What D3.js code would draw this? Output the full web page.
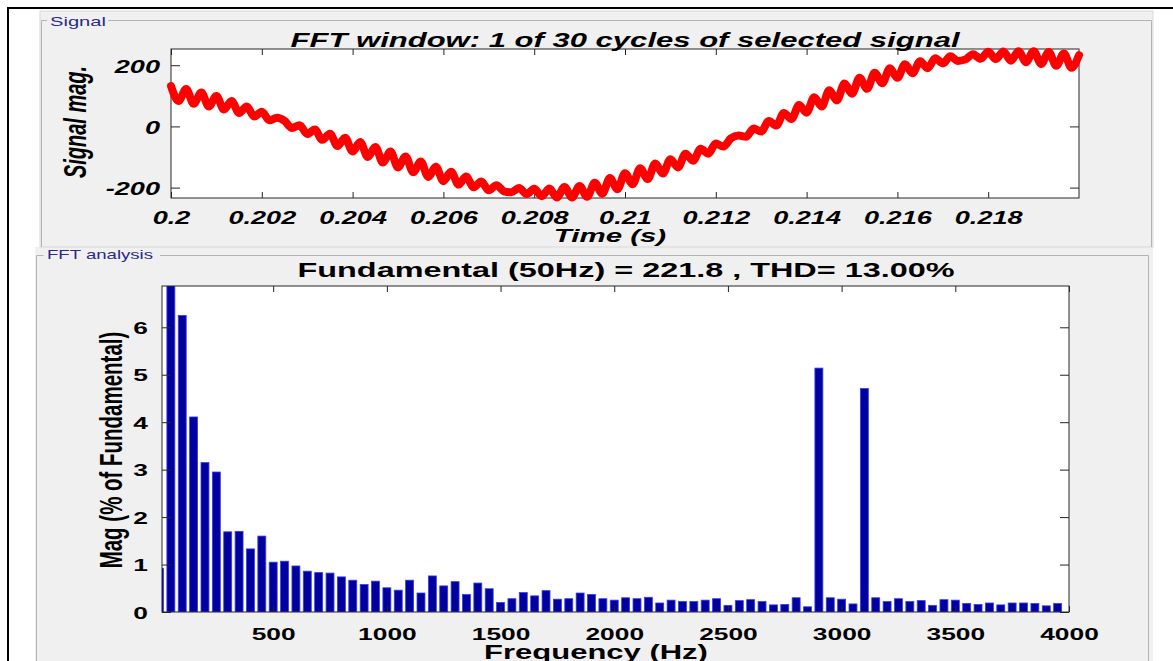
<!DOCTYPE html>
<html>
<head>
<meta charset="utf-8">
<script src="https://cdn.jsdelivr.net/npm/d3@7"></script>
<style>
  body { margin: 0; background: #fff; }
  svg { display: block; }
  text { font-family: "Liberation Sans", Arial, sans-serif; }
</style>
</head>
<body>
<div id="chart"></div>
<script>
// signal window: one cycle, samples every 1/6000 s from t = 0.2 s
var signalStart = 0.2;
var signalStep = 1 / 6000;
var signalValues = [
  132, 83, 122, 74, 111, 65, 99, 55, 83, 44, 65, 32, 48, 20, 28, 18, -5, 4,
  -25, -10, -44, -24, -64, -37, -82, -51, -100, -67, -118, -82, -134, -98,
  -150, -115, -165, -132, -179, -148, -190, -164, -199, -180, -209, -192,
  -212, -215, -201, -221, -204, -228, -203, -232, -198, -232, -195, -230,
  -184, -220, -169, -205, -153, -189, -137, -172, -121, -154, -107, -134,
  -89, -112, -73, -89, -56, -66, -39, -30, -34, -7, -17, 18, 3, 44, 24, 70,
  45, 95, 65, 118, 85, 140, 107, 159, 123, 175, 141, 190, 159, 203, 174,
  213, 190, 223, 206, 229, 214, 219, 236, 221, 244, 220, 245, 215, 246,
  210, 246, 204, 243, 198, 238, 192, 233
];
var timeTicks = [0.2, 0.202, 0.204, 0.206, 0.208, 0.21, 0.212, 0.214, 0.216, 0.218];
var timeTickLabels = ["0.2", "0.202", "0.204", "0.206", "0.208", "0.21", "0.212", "0.214", "0.216", "0.218"];
var signalTicks = [-200, 0, 200];

// FFT spectrum: one bar every 50 Hz, starting at DC (50 Hz = fundamental, 100 %)
var harmonicStep = 50;
var fftMag = [
  0.92, 100, 6.25, 4.11, 3.15, 2.95, 1.69, 1.70, 1.33, 1.60,
  1.05, 1.07, 0.97, 0.86, 0.83, 0.82, 0.74, 0.67, 0.58, 0.65,
  0.51, 0.46, 0.67, 0.40, 0.76, 0.55, 0.64, 0.37, 0.61, 0.49,
  0.20, 0.28, 0.41, 0.34, 0.45, 0.27, 0.28, 0.40, 0.37, 0.28,
  0.25, 0.30, 0.28, 0.31, 0.19, 0.25, 0.22, 0.22, 0.25, 0.28,
  0.14, 0.24, 0.26, 0.22, 0.15, 0.16, 0.30, 0.11, 5.14, 0.30,
  0.27, 0.17, 4.71, 0.30, 0.22, 0.28, 0.22, 0.24, 0.14, 0.26,
  0.25, 0.18, 0.16, 0.19, 0.15, 0.19, 0.19, 0.18, 0.13, 0.18
];
var freqTicks = [500, 1000, 1500, 2000, 2500, 3000, 3500, 4000];
var magTicks = [0, 1, 2, 3, 4, 5, 6];

var titleTop = "FFT window: 1 of 30 cycles of selected signal";
var titleBottom = "Fundamental (50Hz) = 221.8 , THD= 13.00%";

// the screenshot is stretched sideways, so text is too
var SX = 1.55;
var FONT = "Liberation Sans, Arial, sans-serif";

var svg = d3.select("#chart").append("svg")
    .attr("width", 1173)
    .attr("height", 661);

svg.append("rect").attr("width", 1173).attr("height", 661).attr("fill", "#fff");

// panels
function panel(x, y, w, h, bx, by, labelEnd, right) {
  svg.append("rect").attr("x", x).attr("y", y).attr("width", w).attr("height", h)
      .attr("fill", "#f0f0f0");
  var p = d3.path();
  p.moveTo(bx, 661); p.lineTo(bx, by); p.lineTo(bx + 7, by);
  p.moveTo(labelEnd, by); p.lineTo(right, by); p.lineTo(right, 661);
  svg.append("path").attr("d", p.toString()).attr("fill", "none")
      .attr("stroke", "#b4b4b4").attr("stroke-width", 1);
}
panel(35, 247, 1118, 414, 36.5, 255.5, 160, 1148.5);
svg.append("rect").attr("x", 40).attr("y", 11).attr("width", 1113).attr("height", 236)
    .attr("fill", "#f0f0f0").attr("stroke", "#d8d8d8");
svg.append("path")
    .attr("d", "M41.5,247V20.5H47M108,20.5H1151.5V247")
    .attr("fill", "none").attr("stroke", "#b4b4b4");

function wideText(x, y, str, size, opts) {
  opts = opts || {};
  var t = svg.append("text")
      .attr("transform", "translate(" + x + "," + y + ") scale(" + SX + ",1)" + (opts.rotate ? " rotate(-90)" : ""))
      .attr("text-anchor", opts.anchor || "middle")
      .attr("font-size", size)
      .attr("font-weight", opts.weight || "bold")
      .attr("font-style", opts.style || "normal")
      .attr("fill", opts.fill || "#000")
      .text(str);
  if (opts.width) t.attr("textLength", opts.width / SX).attr("lengthAdjust", "spacingAndGlyphs");
  return t;
}

wideText(50, 26, "Signal", 13, {anchor: "start", weight: "normal", fill: "#2a2a8c"});
wideText(47, 259, "FFT analysis", 12, {anchor: "start", weight: "normal", fill: "#2a2a8c"});

function styleTicks(g, size, style, dx, dy, anchor) {
  g.attr("font-family", FONT);
  g.select(".domain").remove();
  g.selectAll(".tick line").attr("stroke", "#262626");
  g.selectAll(".tick text")
      .attr("x", dx / SX).attr("y", dy).attr("dy", null)
      .attr("transform", "scale(" + SX + ",1)")
      .attr("text-anchor", anchor)
      .attr("font-size", size)
      .attr("font-weight", "bold")
      .attr("font-style", style)
      .attr("fill", "#000");
}

// plain integer labels with an ascii hyphen, as matlab prints them
var plain = function(d) { return String(d); };

// ---- top: signal window ----
var sigBox = {left: 171, right: 1079, top: 49, bottom: 198};
var xT = d3.scaleLinear().domain([0.2, 0.22]).range([sigBox.left, sigBox.right]);
var yT = d3.scaleLinear().domain([-234, 253]).range([sigBox.bottom, sigBox.top]);

svg.append("rect").attr("x", sigBox.left).attr("y", sigBox.top)
    .attr("width", sigBox.right - sigBox.left).attr("height", sigBox.bottom - sigBox.top)
    .attr("fill", "#fff").attr("stroke", "#262626");

var gTB = svg.append("g").attr("transform", "translate(0," + sigBox.bottom + ")")
    .call(d3.axisBottom(xT).tickValues(timeTicks).tickSizeInner(-6).tickSizeOuter(0)
      .tickFormat(function(d, i) { return timeTickLabels[i]; }));
styleTicks(gTB, 17.5, "italic", 0, 26, "middle");
var gTT = svg.append("g").attr("transform", "translate(0," + sigBox.top + ")")
    .call(d3.axisTop(xT).tickValues(timeTicks).tickSizeInner(-6).tickSizeOuter(0).tickFormat(""));
styleTicks(gTT, 1, "normal", 0, 0, "middle");
var gTL = svg.append("g").attr("transform", "translate(" + sigBox.left + ",0)")
    .call(d3.axisLeft(yT).tickValues(signalTicks).tickSizeInner(-9).tickSizeOuter(0)
      .tickFormat(plain));
styleTicks(gTL, 17.5, "italic", -11, 7, "end");
var gTR = svg.append("g").attr("transform", "translate(" + sigBox.right + ",0)")
    .call(d3.axisRight(yT).tickValues(signalTicks).tickSizeInner(-9).tickSizeOuter(0).tickFormat(""));
styleTicks(gTR, 1, "normal", 0, 0, "start");

var line = d3.line()
    .x(function(d, i) { return xT(signalStart + i * signalStep); })
    .y(function(d) { return yT(d); })
    .curve(d3.curveMonotoneX);

svg.append("path")
    .datum(signalValues)
    .attr("d", line)
    .attr("fill", "none")
    .attr("stroke", "#ff0000")
    .attr("stroke-width", 8)
    .attr("stroke-linejoin", "round")
    .attr("stroke-linecap", "round");

wideText(625, 47, titleTop, 20, {style: "italic", width: 669});
wideText(610, 242, "Time (s)", 19, {style: "italic"});
wideText(86, 122, "Signal mag.", 20, {style: "italic", rotate: true});

// ---- bottom: FFT analysis ----
var fftBox = {left: 162, right: 1069, top: 286, bottom: 612};
var xB = d3.scaleLinear().domain([11, 4000]).range([fftBox.left, fftBox.right]);
var yB = d3.scaleLinear().domain([0, 6.87]).range([fftBox.bottom, fftBox.top]);
var barHz = 35;

svg.append("defs").append("clipPath").attr("id", "fftClip")
  .append("rect").attr("x", fftBox.left).attr("y", fftBox.top)
    .attr("width", fftBox.right - fftBox.left).attr("height", fftBox.bottom - fftBox.top);

svg.append("rect").attr("x", fftBox.left).attr("y", fftBox.top)
    .attr("width", fftBox.right - fftBox.left).attr("height", fftBox.bottom - fftBox.top)
    .attr("fill", "#fff");

svg.append("g").attr("clip-path", "url(#fftClip)")
  .selectAll(".bar")
    .data(fftMag)
  .enter().append("rect")
    .attr("class", "bar")
    .attr("x", function(d, i) { return xB(i * harmonicStep - barHz / 2); })
    .attr("width", xB(barHz) - xB(0))
    .attr("y", function(d) { return yB(d); })
    .attr("height", function(d) { return fftBox.bottom - yB(d); })
    .attr("fill", "#00009c")
    .attr("stroke", "#3a3aff")
    .attr("stroke-width", 0.8);

svg.append("rect").attr("x", fftBox.left).attr("y", fftBox.top)
    .attr("width", fftBox.right - fftBox.left).attr("height", fftBox.bottom - fftBox.top)
    .attr("fill", "none").attr("stroke", "#262626");

var gBB = svg.append("g").attr("transform", "translate(0," + fftBox.bottom + ")")
    .call(d3.axisBottom(xB).tickValues(freqTicks).tickSizeInner(-6).tickSizeOuter(0)
      .tickFormat(plain));
styleTicks(gBB, 17, "normal", 0, 28, "middle");
var gBT = svg.append("g").attr("transform", "translate(0," + fftBox.top + ")")
    .call(d3.axisTop(xB).tickValues(freqTicks).tickSizeInner(-6).tickSizeOuter(0).tickFormat(""));
styleTicks(gBT, 1, "normal", 0, 0, "middle");
var gBL = svg.append("g").attr("transform", "translate(" + fftBox.left + ",0)")
    .call(d3.axisLeft(yB).tickValues(magTicks).tickSizeInner(-9).tickSizeOuter(0)
      .tickFormat(plain));
styleTicks(gBL, 17, "normal", -14, 6, "end");
var gBR = svg.append("g").attr("transform", "translate(" + fftBox.right + ",0)")
    .call(d3.axisRight(yB).tickValues(magTicks).tickSizeInner(-9).tickSizeOuter(0).tickFormat(""));
styleTicks(gBR, 1, "normal", 0, 0, "start");

wideText(626, 277, titleBottom, 20, {width: 657});
wideText(596, 659, "Frequency (Hz)", 20, {});
wideText(122, 450, "Mag (% of Fundamental)", 20.5, {rotate: true});

// outer frame
svg.append("path").attr("d", "M8,661V8H1173").attr("fill", "none")
    .attr("stroke", "#000").attr("stroke-width", 2);
</script>
</body>
</html>
